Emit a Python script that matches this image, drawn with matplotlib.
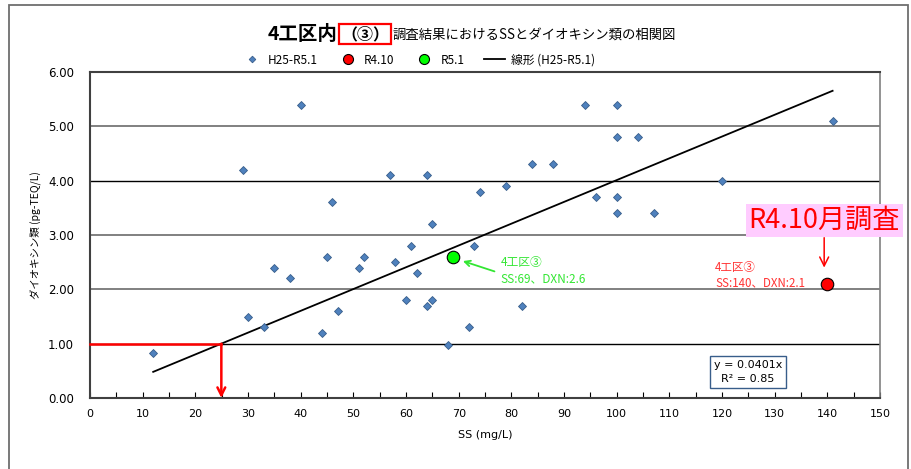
import matplotlib
matplotlib.use("Agg")
import matplotlib.pyplot as plt
import matplotlib.patches as patches
import numpy as np

plt.rcParams['font.family'] = ['DejaVu Sans', 'Noto Sans CJK JP']
JP = ['Noto Sans CJK JP', 'DejaVu Sans']

# H25-R5.1 survey results
ss = [12, 29, 30, 33, 35, 38, 40, 44, 45, 46, 47, 51, 52, 57, 58, 60, 61, 62, 64, 64,
      65, 65, 68, 72, 73, 74, 79, 82, 84, 88, 94, 96, 100, 100, 100, 100, 104, 107, 120, 141]
dxn = [0.82, 4.2, 1.5, 1.3, 2.4, 2.2, 5.4, 1.2, 2.6, 3.6, 1.6, 2.4, 2.6, 4.1, 2.5, 1.8, 2.8, 2.3, 4.1, 1.7,
       3.2, 1.8, 0.97, 1.3, 2.8, 3.8, 3.9, 1.7, 4.3, 4.3, 5.4, 3.7, 5.4, 4.8, 3.7, 3.4, 4.8, 3.4, 4.0, 5.1]
r410_ss, r410_dxn = 140, 2.1
r51_ss, r51_dxn = 69, 2.6
slope = 0.0401
r2 = 0.85

xticks = list(range(0, 151, 10))
yticks = [0, 1, 2, 3, 4, 5, 6]
grid_colors = ['none', 'black', '#808080', '#808080', 'black', '#808080', 'none']

fig = plt.figure(figsize=(9.12, 4.69), dpi=100)
ax = fig.add_axes([90 / 912, 1 - 398 / 469, 790 / 912, 326 / 469])

# outer chart frame
fig.patches.append(patches.Rectangle((9 / 912, -0.1), 899 / 912, 1.1 - 5 / 469,
                                     transform=fig.transFigure, fill=False,
                                     edgecolor='#6e6e6e', lw=1.3))

ax.set_xlim(0, 150)
ax.set_ylim(0, 6)
ax.set_xticks(xticks)
ax.set_xticks(range(5, 150, 10), minor=True)
ax.set_yticks(yticks)
ax.set_yticklabels([f"{v:.2f}" for v in yticks])
ax.tick_params(axis='x', which='both', direction='in', length=4, width=0.8, labelsize=8, pad=8)
ax.tick_params(axis='y', length=0, labelsize=8.5, pad=11.5)

for v, c in zip(yticks, grid_colors):
    if c != 'none':
        ax.axhline(v, color=c, lw=1.0 if c == 'black' else 1.4, zorder=0)

for side in ['left', 'bottom', 'top']:
    ax.spines[side].set_color('#404040')
    ax.spines[side].set_linewidth(1.5)
ax.spines['right'].set_color('#808080')
ax.spines['right'].set_linewidth(1.2)

ax.set_xlabel("SS (mg/L)", fontsize=8, labelpad=8)
ax.set_ylabel("ダイオキシン類 (pg-TEQ/L)", fontsize=7.5, family=JP)
ax.yaxis.set_label_coords(-49 / 790, 0.5)

# trend line
xs = np.array([min(ss), max(ss)])
line, = ax.plot(xs, slope * xs, color='black', lw=1.3, zorder=2, label='線形 (H25-R5.1)')

sc1, = ax.plot(ss, dxn, linestyle='none', marker='D', markersize=4.2,
               markerfacecolor='#4f81bd', markeredgecolor='#385d8a', markeredgewidth=0.6,
               zorder=3, label='H25-R5.1')
sc2, = ax.plot([r410_ss], [r410_dxn], linestyle='none', marker='o', markersize=9,
               markerfacecolor='#ff0000', markeredgecolor='black', markeredgewidth=0.8,
               zorder=4, label='R4.10')
sc3, = ax.plot([r51_ss], [r51_dxn], linestyle='none', marker='o', markersize=9,
               markerfacecolor='#00ff00', markeredgecolor='black', markeredgewidth=0.8,
               zorder=4, label='R5.1')

# red guide: DXN 1.0 -> SS
x_at_1 = 1 / slope
ax.plot([0, x_at_1], [1, 1], color='red', lw=1.8, zorder=3, clip_on=False)
ax.annotate('', xy=(x_at_1, 0), xytext=(x_at_1, 1),
            arrowprops=dict(arrowstyle='->', color='red', lw=1.8, mutation_scale=14,
                            shrinkA=0, shrinkB=0), zorder=3)

# green annotation
green = '#33e633'
ax.annotate('', xy=(r51_ss + 1.8, r51_dxn - 0.08), xytext=(r51_ss + 7.8, r51_dxn - 0.27),
            arrowprops=dict(arrowstyle='->', color=green, lw=1.3, mutation_scale=10,
                            shrinkA=0, shrinkB=0))
ax.text(r51_ss + 9, r51_dxn - 0.1, "4工区③", color=green, fontsize=8.5, family=JP, va='center')
ax.text(r51_ss + 9, r51_dxn - 0.41, f"SS:{r51_ss}、DXN:{r51_dxn}", color=green, fontsize=8.5,
        family=JP, va='center')

# red annotation
red_txt = '#ff3333'
ax.text(r410_ss - 21.3, r410_dxn + 0.31, "4工区③", color=red_txt, fontsize=8.3, family=JP, va='center')
ax.text(r410_ss - 21.3, r410_dxn + 0.01, f"SS:{r410_ss}、DXN:{r410_dxn}", color=red_txt, fontsize=8.3,
        family=JP, va='center')
ax.annotate('', xy=(r410_ss - 0.6, r410_dxn + 0.3), xytext=(r410_ss - 0.6, r410_dxn + 0.85),
            arrowprops=dict(arrowstyle='->', color='red', lw=1.1, mutation_scale=16,
                            shrinkA=0, shrinkB=0))
ax.text(r410_ss - 0.6, r410_dxn + 1.17, "R4.10月調査", color='red', fontsize=19.5, family=JP,
        ha='center', va='center', clip_on=False,
        bbox=dict(boxstyle='square,pad=0.1', facecolor='#ffccff', edgecolor='none'))

# equation box
ax.text(124.9, 0.48, f"y = {slope}x\nR² = {r2}", fontsize=8, ha='center', va='center',
        linespacing=1.6,
        bbox=dict(boxstyle='square,pad=0.35', facecolor='white', edgecolor='#385d8a', lw=1))

# title
fig.text(268 / 912, 1 - 34 / 469, "4工区内", fontsize=14, fontweight='bold', family=JP,
         va='center', ha='left')
fig.text(365 / 912, 1 - 34 / 469, "（③）", fontsize=11.5, fontweight='bold', family=JP,
         va='center', ha='center',
         bbox=dict(boxstyle='square,pad=0.12', facecolor='none', edgecolor='red', lw=1.6))
fig.text(393 / 912, 1 - 35 / 469, "調査結果におけるSSとダイオキシン類の相関図", fontsize=9.6,
         family=JP, va='center', ha='left')

fig.legend(handles=[sc1, sc2, sc3, line], loc='center', bbox_to_anchor=(418 / 912, 1 - 60 / 469),
           ncol=4, frameon=False, prop={'family': JP, 'size': 8.5}, handlelength=1.8,
           columnspacing=1.6, handletextpad=0.5, markerscale=0.8)

fig.savefig("out.png", dpi=100)
